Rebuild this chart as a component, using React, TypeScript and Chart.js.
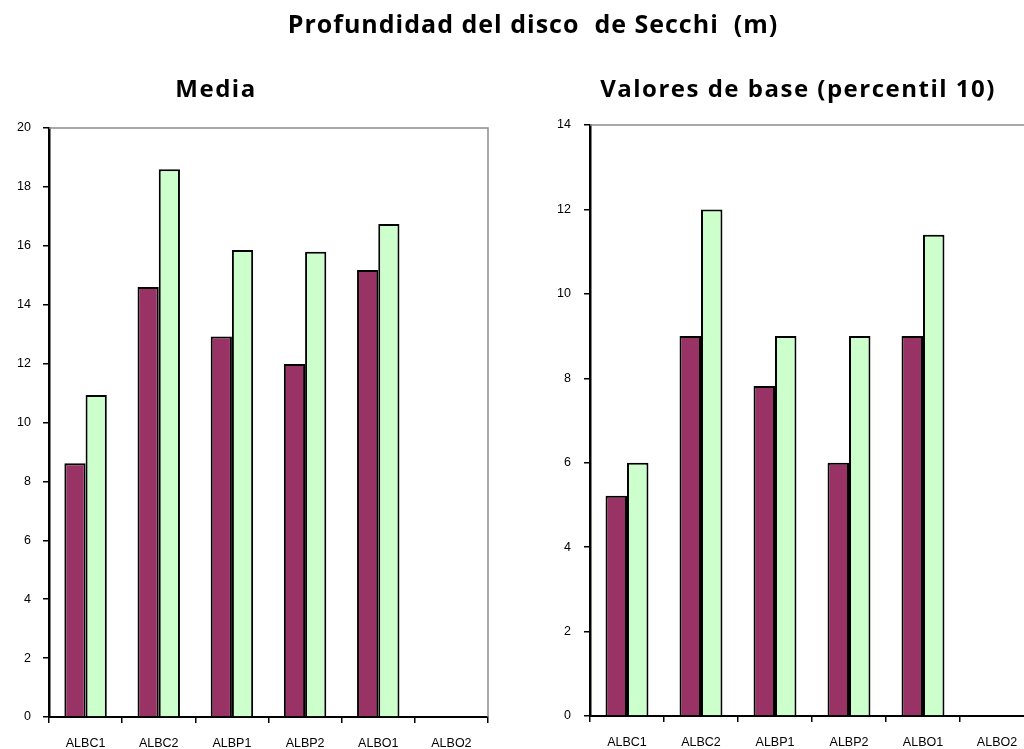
import React, { useEffect, useRef } from "react";
import { Chart, registerables } from "chart.js";

Chart.register(...registerables);

const categories = ["ALBC1", "ALBC2", "ALBP1", "ALBP2", "ALBO1", "ALBO2"];
const mediaSerie1 = [8.62, 14.6, 12.92, 11.99, 15.18, null];
const mediaSerie2 = [10.93, 18.6, 15.86, 15.8, 16.74, null];
const baseSerie1 = [5.22, 9.0, 7.82, 6.0, 9.0, null];
const baseSerie2 = [6.0, 12.0, 9.0, 9.0, 11.4, null];
const mediaTicks = { min: 0, max: 20, step: 2 };
const baseTicks = { min: 0, max: 14, step: 2 };

const mainTitle = "Profundidad del disco  de Secchi  (m)";
const leftTitle = "Media";
const rightTitle = "Valores de base (percentil 10)";

const MAROON = "#993366";
const GREEN = "#CCFFCC";

const framePlugin = {
  id: "frame",
  afterDraw(chart: any) {
    const { ctx, chartArea } = chart;
    const drawRight = chart.options.plugins.frame?.right !== false;
    ctx.save();
    ctx.strokeStyle = "#8c8c8c";
    ctx.lineWidth = 1.5;
    ctx.beginPath();
    ctx.moveTo(chartArea.left, chartArea.top);
    ctx.lineTo(chartArea.right, chartArea.top);
    if (drawRight) ctx.lineTo(chartArea.right, chartArea.bottom);
    ctx.stroke();
    ctx.restore();
  },
};

function makeConfig(
  s1: (number | null)[],
  s2: (number | null)[],
  t: { min: number; max: number; step: number },
  yWidth: number,
  xHeight: number,
  padding: any,
  yPad: number,
  drawRight: boolean
): any {
  return {
    type: "bar",
    data: {
      labels: categories,
      datasets: [
        {
          label: "Serie 1",
          data: s1,
          backgroundColor: MAROON,
          borderColor: "#000000",
          borderWidth: 2,
          borderSkipped: "bottom",
        },
        {
          label: "Serie 2",
          data: s2,
          backgroundColor: GREEN,
          borderColor: "#000000",
          borderWidth: 2,
          borderSkipped: "bottom",
        },
      ],
    },
    options: {
      responsive: false,
      animation: false,
      layout: { padding },
      datasets: { bar: { categoryPercentage: 0.58, barPercentage: 1 } },
      plugins: {
        legend: { display: false },
        title: { display: false },
        tooltip: { enabled: false },
        frame: { right: drawRight },
      },
      scales: {
        x: {
          grid: {
            drawOnChartArea: false,
            drawTicks: true,
            tickLength: 6,
            tickColor: "#000000",
            lineWidth: 1.5,
            offset: true,
          },
          border: { display: true, color: "#000000", width: 2 },
          ticks: {
            color: "#000000",
            font: { family: "'Liberation Sans', Arial, sans-serif", size: 12.5 },
            padding: 13,
            maxRotation: 0,
          },
          afterFit(scale: any) {
            scale.height = xHeight;
          },
        },
        y: {
          min: t.min,
          max: t.max,
          grid: {
            drawOnChartArea: false,
            drawTicks: true,
            tickLength: 6,
            tickColor: "#000000",
            lineWidth: 1.5,
          },
          border: { display: true, color: "#000000", width: 2.5 },
          ticks: {
            stepSize: t.step,
            color: "#000000",
            font: { family: "'Liberation Sans', Arial, sans-serif", size: 12.5 },
            padding: yPad,
          },
          afterFit(scale: any) {
            scale.width = yWidth;
          },
        },
      },
    },
    plugins: [framePlugin],
  };
}

export default function App() {
  const leftRef = useRef<HTMLCanvasElement | null>(null);
  const rightRef = useRef<HTMLCanvasElement | null>(null);

  useEffect(() => {
    const c1 = new Chart(
      leftRef.current as HTMLCanvasElement,
      makeConfig(mediaSerie1, mediaSerie2, mediaTicks, 49, 32, { top: 128, right: 24, left: 0, bottom: 0 }, 12, true)
    );
    const c2 = new Chart(
      rightRef.current as HTMLCanvasElement,
      makeConfig(baseSerie1, baseSerie2, baseTicks, 78, 33, { top: 125, right: 18, left: 0, bottom: 0 }, 13, true)
    );
    return () => {
      c1.destroy();
      c2.destroy();
    };
  }, []);

  const titleFont = "'Open Sans', 'DejaVu Sans', sans-serif";

  return (
    <div
      style={{
        position: "fixed",
        left: 0,
        top: 0,
        width: 1024,
        height: 749,
        overflow: "hidden",
        background: "#ffffff",
      }}
    >
      <canvas
        ref={leftRef}
        width={512}
        height={749}
        style={{ position: "absolute", left: 0, top: 0, width: 512, height: 749 }}
      />
      <canvas
        ref={rightRef}
        width={540}
        height={749}
        style={{ position: "absolute", left: 512, top: 0, width: 540, height: 749 }}
      />
      <div
        style={{
          position: "absolute",
          left: 0,
          top: 6,
          width: 1066,
          textAlign: "center",
          fontFamily: titleFont,
          fontWeight: 700,
          fontSize: 25,
          letterSpacing: 1,
          whiteSpace: "pre",
          color: "#000",
        }}
      >
        {mainTitle}
      </div>
      <div
        style={{
          position: "absolute",
          left: 0,
          top: 71,
          width: 432,
          textAlign: "center",
          fontFamily: titleFont,
          fontWeight: 700,
          fontSize: 24,
          letterSpacing: 1.5,
          color: "#000",
        }}
      >
        {leftTitle}
      </div>
      <div
        style={{
          position: "absolute",
          left: 498,
          top: 71,
          width: 600,
          textAlign: "center",
          fontFamily: titleFont,
          fontWeight: 700,
          fontSize: 24,
          letterSpacing: 1.5,
          whiteSpace: "pre",
          color: "#000",
        }}
      >
        {rightTitle}
      </div>
    </div>
  );
}
